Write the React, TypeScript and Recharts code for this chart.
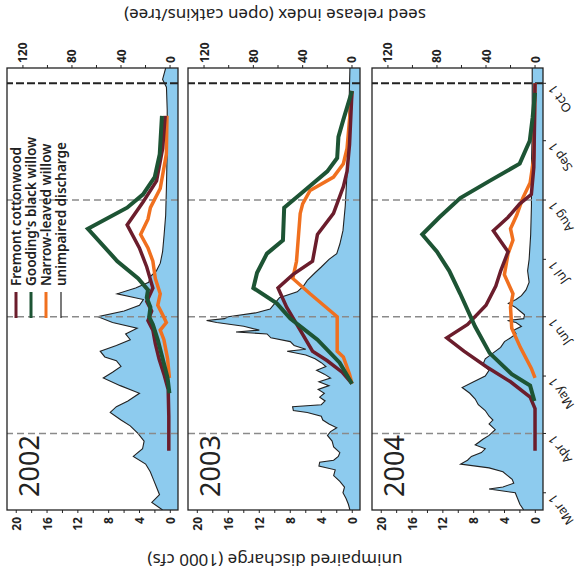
import { Area, ComposedChart, Line, ReferenceLine, XAxis, YAxis } from "recharts";

// time axis: day of year (non-leap)
const MONTH_DAYS = [60, 91, 121, 152, 182, 213, 244, 274];
const MONTH_LABELS = ["Mar 1", "Apr 1", "May 1", "Jun 1", "Jul 1", "Aug 1", "Sep 1", "Oct 1"];
const GRAY_DASH_DAYS = [91, 152, 213];
const OCT_DAY = 274;

const DISCHARGE_TICKS = [0, 2, 4, 6, 8, 10, 12, 14, 16, 18, 20];
const SEED_TICKS = [0, 20, 40, 60, 80, 100, 120];

const SERIES_NAMES = ["Fremont cottonwood", "Gooding's black willow", "Narrow-leaved willow", "unimpaired discharge"];

// unimpaired discharge, [day, 1000 cfs]
const discharge2002: [number, number][] = [
  [51, 1.0], [55, 2.4], [59, 1.4], [63, 1.8], [67, 2.2], [71, 2.6], [75, 3.2], [79, 4.8], [83, 3.6],
  [87, 3.4], [91, 4.2], [95, 5.2], [98, 6.4], [102, 7.8], [105, 7.0], [108, 5.5], [112, 4.0], [116, 6.5],
  [120, 8.7], [123, 7.5], [126, 6.4], [129, 7.0], [131, 8.5], [134, 9.1], [137, 7.0], [140, 5.2], [143, 5.8],
  [146, 4.3], [149, 7.5], [152, 9.4], [155, 6.0], [158, 4.0], [161, 3.5], [164, 6.9], [167, 4.5], [170, 2.8],
  [173, 2.6], [176, 1.8], [180, 1.3], [186, 1.0], [195, 0.8], [205, 0.6], [220, 0.5], [240, 0.4], [260, 0.4],
  [272, 0.5], [276, 1.0], [282, 0.6],
];
const discharge2003: [number, number][] = [
  [51, 0.3], [54, 0.5], [57, 0.8], [60, 1.2], [63, 1.0], [66, 1.6], [69, 2.4], [72, 2.2], [74, 4.3], [76, 4.2],
  [77, 2.4], [79, 1.8], [81, 1.6], [84, 2.4], [87, 2.6], [90, 3.2], [92, 2.8], [94, 2.0], [96, 3.0], [98, 3.8],
  [100, 4.0], [102, 5.8], [103, 7.6], [105, 7.7], [106, 4.0], [108, 3.5], [110, 4.2], [112, 3.6], [114, 4.4],
  [116, 3.0], [118, 4.3], [120, 2.8], [122, 3.6], [124, 4.6], [126, 3.4], [128, 4.0], [130, 4.8], [132, 6.0],
  [134, 8.4], [135, 6.0], [137, 7.5], [139, 8.0], [141, 10.5], [143, 11.0], [144, 15.0], [145, 12.0],
  [147, 14.0], [149, 17.5], [150, 18.8], [151, 16.5], [152, 16.0], [154, 12.5], [156, 10.6], [159, 10.0],
  [162, 9.4], [165, 7.1], [168, 6.3], [171, 5.8], [175, 4.8], [178, 4.0], [182, 3.0], [185, 2.0], [190, 1.6],
  [197, 1.2], [210, 0.9], [225, 0.7], [245, 0.5], [265, 0.4], [282, 0.3],
];
const discharge2004: [number, number][] = [
  [51, 1.5], [54, 2.0], [57, 2.3], [60, 2.6], [62, 6.0], [63, 4.2], [65, 2.8], [67, 3.0], [69, 3.6], [71, 4.2],
  [73, 6.0], [75, 9.7], [77, 8.8], [79, 8.3], [81, 7.0], [83, 6.5], [85, 7.8], [88, 6.8], [90, 6.0], [93, 5.2],
  [96, 6.0], [98, 5.5], [100, 6.0], [103, 6.5], [106, 7.4], [109, 7.8], [112, 8.5], [115, 9.5], [118, 8.0],
  [121, 6.5], [124, 6.0], [127, 6.8], [130, 6.5], [133, 5.5], [136, 4.5], [139, 4.0], [141, 3.2], [143, 2.5],
  [145, 2.8], [147, 1.8], [149, 2.5], [150, 3.6], [151, 1.5], [153, 1.4], [155, 2.0], [157, 2.6], [159, 3.5],
  [161, 2.5], [163, 1.8], [166, 1.2], [170, 0.8], [176, 1.0], [182, 0.8], [195, 0.6], [210, 0.5], [230, 0.5],
  [250, 0.4], [270, 0.4], [282, 0.4],
];

// seed release index, [day, open catkins/tree]
const fremont2002: [number, number][] = [
  [82, 1], [100, 1], [114, 1.5], [122, 5], [130, 9], [138, 12], [145, 14], [150, 18], [155, 15], [160, 19],
  [167, 14], [178, 19], [188, 25], [200, 35], [212, 22], [223, 11], [240, 6], [257, 4],
];
const gooding2002: [number, number][] = [
  [112, 0.5], [120, 2], [130, 6], [140, 10], [148, 14], [152, 17], [157, 16], [162, 19], [166, 18], [172, 26],
  [181, 43], [198, 67], [209, 35], [216, 22], [225, 12.5], [237, 8.4], [257, 6.6],
];
const narrow2002: [number, number][] = [
  [120, 0.5], [130, 2], [140, 5], [145, 8], [149, 3], [153, 6], [158, 10], [164, 8], [172, 12], [181, 14],
  [188, 18], [195, 24], [203, 18], [209, 16], [219, 8], [237, 3], [257, 2.5],
];
const fremont2003: [number, number][] = [
  [117, 0], [123, 8], [129, 20], [134, 32], [145, 42], [157, 53], [167, 60], [174, 48], [181, 32], [195, 28],
  [206, 15], [220, 7], [228, 4], [242, 2], [270, 0],
];
const gooding2003: [number, number][] = [
  [117, 0], [128, 10], [140, 28], [151, 50], [159, 61], [167, 80], [175, 77], [185, 69], [192, 56], [209, 55],
  [216, 42], [228, 20], [235, 12], [246, 11], [255, 7], [270, 0],
];
const narrow2003: [number, number][] = [
  [117, 0], [122, 2], [131, 7], [134, 12], [152, 12], [164, 34], [172, 48], [181, 45], [206, 42], [211, 40],
  [218, 34], [225, 15], [232, 7], [240, 4], [270, 0],
];
const fremont2004: [number, number][] = [
  [82, 0], [104, 0], [110, 4], [118, 20], [126, 40], [134, 58], [141, 72], [148, 55], [158, 40],
  [168, 32], [176, 28], [186, 22], [197, 34], [204, 22], [211, 12.5], [216, 3], [230, 1], [250, 0.5], [274, 0],
];
const gooding2004: [number, number][] = [
  [108, 0.5], [116, 4], [122, 19], [133, 37], [147, 49], [164, 61], [176, 70], [186, 80], [195, 92], [204, 78],
  [214, 61], [223, 37], [232, 12.5], [244, 4.3], [256, 2], [269, 0],
];
const narrow2004: [number, number][] = [
  [120, 0], [125, 3], [136, 12], [146, 19], [157, 20], [164, 18], [174, 25], [185, 22], [192, 18], [198, 20],
  [205, 15], [214, 10], [222, 4], [235, 1], [255, 0.5], [274, 0],
];

const MAROON = "#6b1d2c";
const GREEN = "#1d5434";
const ORANGE = "#f0701f";
const BLUE = "#8dcbee";
const INK = "#222";
const FONT = "'Noto Sans', 'DejaVu Sans', sans-serif";

const PLOT_TOP = 68;
const PLOT_H = 442;

const toRows = (arr: [number, number][], key: string) => arr.map(([day, v]) => ({ day, [key]: v }));

function ValueTick(props: any) {
  const { x, y, payload, step, side } = props;
  if (payload.value % step !== 0) return null;
  const ty = side === "top" ? y : y + 2;
  return (
    <text
      x={x}
      y={ty}
      transform={`rotate(-90 ${x} ${ty})`}
      textAnchor={side === "top" ? "start" : "end"}
      dominantBaseline="central"
      fontFamily={FONT}
      fontWeight={700}
      fontSize={12}
      fill={INK}
    >
      {payload.value}
    </text>
  );
}

function MonthTick(props: any) {
  const { x, y, payload } = props;
  const label = MONTH_LABELS[MONTH_DAYS.indexOf(payload.value)];
  const tx = x + 3;
  const ty = y + 3;
  return (
    <text
      x={tx}
      y={ty}
      transform={`rotate(-125 ${tx} ${ty})`}
      textAnchor="end"
      dominantBaseline="central"
      fontFamily={FONT}
      fontSize={12.5}
      fill={INK}
    >
      {label}
    </text>
  );
}

type PanelProps = {
  left: number;
  width: number;
  discharge: [number, number][];
  fremont: [number, number][];
  gooding: [number, number][];
  narrow: [number, number][];
  months?: boolean;
};

function Panel({ left, width, discharge, fremont, gooding, narrow, months }: PanelProps) {
  const axisW = months ? 577 - left - width : 5;
  return (
    <div style={{ position: "absolute", left, top: 0 }}>
      <ComposedChart layout="vertical" width={width + axisW} height={575} margin={{ top: 0, right: 0, bottom: 0, left: 0 }}>
        <XAxis
          xAxisId="q"
          type="number"
          orientation="bottom"
          domain={[-1, 21.2]}
          reversed
          allowDataOverflow
          ticks={DISCHARGE_TICKS}
          interval={0}
          height={575 - PLOT_TOP - PLOT_H}
          axisLine={false}
          tickLine={{ stroke: INK }}
          tickSize={3}
          tick={<ValueTick step={4} side="bottom" />}
        />
        <XAxis
          xAxisId="s"
          type="number"
          orientation="top"
          domain={[-6.5, 133]}
          reversed
          allowDataOverflow
          ticks={SEED_TICKS}
          interval={0}
          height={PLOT_TOP}
          axisLine={false}
          tickLine={{ stroke: INK }}
          tickSize={3}
          tick={<ValueTick step={40} side="top" />}
        />
        <YAxis
          yAxisId="t"
          type="number"
          dataKey="day"
          orientation="right"
          domain={[51, 282]}
          reversed
          allowDataOverflow
          ticks={MONTH_DAYS}
          interval={0}
          width={axisW}
          axisLine={false}
          tickLine={{ stroke: INK }}
          tickSize={3}
          tick={months ? <MonthTick /> : false}
        />
        <Area
          xAxisId="q"
          yAxisId="t"
          data={toRows(discharge, "q")}
          dataKey="q"
          type="linear"
          baseValue="dataMin"
          fill={BLUE}
          fillOpacity={1}
          stroke={INK}
          strokeWidth={1.1}
          isAnimationActive={false}
        />
        {GRAY_DASH_DAYS.map((d) => (
          <ReferenceLine key={d} xAxisId="q" yAxisId="t" y={d} stroke="#8a8a8a" strokeWidth={1.4} strokeDasharray="7 4" />
        ))}
        <ReferenceLine xAxisId="q" yAxisId="t" y={OCT_DAY} stroke={INK} strokeWidth={2} strokeDasharray="8 3" />
        <Line xAxisId="s" yAxisId="t" data={toRows(narrow, "s")} dataKey="s" type="linear" stroke={ORANGE} strokeWidth={3.5} dot={false} isAnimationActive={false} />
        <Line xAxisId="s" yAxisId="t" data={toRows(fremont, "s")} dataKey="s" type="linear" stroke={MAROON} strokeWidth={3.5} dot={false} isAnimationActive={false} />
        <Line xAxisId="s" yAxisId="t" data={toRows(gooding, "s")} dataKey="s" type="linear" stroke={GREEN} strokeWidth={4} dot={false} isAnimationActive={false} />
      </ComposedChart>
    </div>
  );
}

const PANELS = [
  { year: "2002", left: 7, width: 171, discharge: discharge2002, fremont: fremont2002, gooding: gooding2002, narrow: narrow2002 },
  { year: "2003", left: 188, width: 172, discharge: discharge2003, fremont: fremont2003, gooding: gooding2003, narrow: narrow2003 },
  { year: "2004", left: 372, width: 171, discharge: discharge2004, fremont: fremont2004, gooding: gooding2004, narrow: narrow2004 },
];

const LEGEND_COLORS = [MAROON, GREEN, ORANGE, INK];

export default function App() {
  return (
    <div style={{ position: "absolute", left: 0, top: 0, width: 577, height: 575, background: "#fff", overflow: "hidden" }}>
      {PANELS.map((p, i) => (
        <Panel key={p.year} {...p} months={i === 2} />
      ))}
      <svg width={577} height={575} style={{ position: "absolute", left: 0, top: 0, pointerEvents: "none" }}>
        {PANELS.map((p) => (
          <g key={p.year}>
            <rect x={p.left} y={PLOT_TOP} width={p.width} height={PLOT_H} fill="none" stroke={INK} strokeWidth={1.3} />
            <text
              x={p.left + 21}
              y={466}
              transform={`rotate(-90 ${p.left + 21} 466)`}
              textAnchor="middle"
              dominantBaseline="central"
              fontFamily={FONT}
              fontSize={27}
              fill={INK}
            >
              {p.year}
            </text>
          </g>
        ))}
        {SERIES_NAMES.map((name, i) => {
          const cx = 16 + i * 15;
          return (
            <g key={name}>
              <line x1={cx} x2={cx} y1={318} y2={292} stroke={LEGEND_COLORS[i]} strokeWidth={i === 3 ? 1.2 : 3} />
              <text
                x={cx}
                y={286}
                transform={`rotate(-90 ${cx} 286)`}
                textAnchor="start"
                dominantBaseline="central"
                fontFamily={FONT}
                fontWeight={600}
                fontSize={13.5}
                fill={INK}
              >
                {name}
              </text>
            </g>
          );
        })}
        <text x={275} y={15} transform="rotate(180 275 15)" textAnchor="middle" dominantBaseline="central" fontFamily={FONT} fontSize={17} fill={INK}>
          seed release index (open catkins/tree)
        </text>
        <text x={275} y={560} transform="rotate(180 275 560)" textAnchor="middle" dominantBaseline="central" fontFamily={FONT} fontSize={17} fill={INK}>
          unimpaired discharge (1000 cfs)
        </text>
      </svg>
    </div>
  );
}
